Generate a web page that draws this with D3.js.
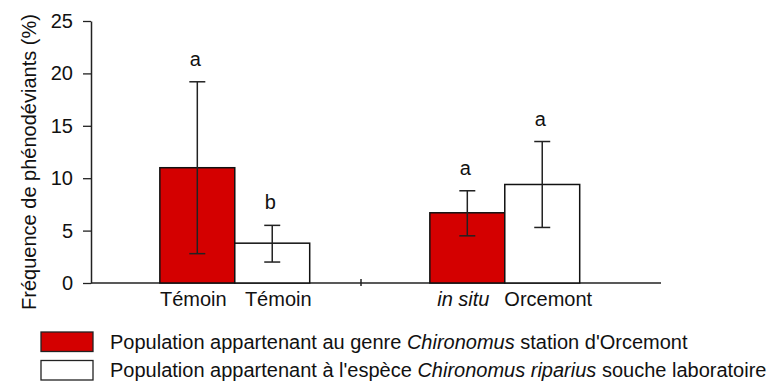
<!DOCTYPE html>
<html>
<head>
<meta charset="utf-8">
<script src="https://cdn.jsdelivr.net/npm/d3@7"></script>
<style>
  html, body { margin: 0; padding: 0; background: #fff; }
  svg { display: block; font-family: "Liberation Sans", Arial, sans-serif; }
</style>
</head>
<body>
<svg id="chart" width="780" height="382"></svg>
<script>
// Frequency of phenodeviants per population
const groups = ["Témoin", "Orcemont"];
const series = ["genre", "espece"];
const barLabels = [["Témoin", "Témoin"], ["in situ", "Orcemont"]];
const italicLabel = [[false, false], [true, false]];
const means = [[11.0, 3.8], [6.7, 9.4]];
const errLow = [[2.8, 2.0], [4.5, 5.3]];
const errHigh = [[19.2, 5.5], [8.8, 13.5]];
const letters = [["a", "b"], ["a", "a"]];
const yTicks = [0, 5, 10, 15, 20, 25];
const colors = { genre: "#d40000", espece: "#ffffff" };

const svg = d3.select("#chart");
const plotLeft = 91, plotTop = 21, plotBottom = 283, axisEnd = 661, catEnd = 631;
const fontSize = 20;
// paired labels are pushed slightly apart from their bar centres
const labelSpread = [-4, 6];

const y = d3.scaleLinear().domain([0, 25]).range([plotBottom, plotTop]);
const xg = d3.scaleBand().domain(groups).range([plotLeft, catEnd]);
const xs = d3.scaleBand().domain(series)
  .range([xg.bandwidth() * 0.255, xg.bandwidth() * 0.81]);

// y axis
const yAxis = svg.append("g")
  .attr("transform", `translate(${plotLeft},0)`)
  .call(d3.axisLeft(y).tickValues(yTicks).tickSize(8).tickPadding(10).tickSizeOuter(0));
yAxis.select(".domain").attr("stroke", "#222").attr("stroke-width", 1.5);
yAxis.selectAll(".tick line").attr("stroke", "#222").attr("stroke-width", 1.3);
yAxis.selectAll(".tick text")
  .attr("font-size", fontSize).attr("fill", "#111")
  .attr("font-family", "'Liberation Sans', Arial, sans-serif");

// x axis baseline and category separator
svg.append("line")
  .attr("x1", plotLeft).attr("x2", axisEnd).attr("y1", y(0)).attr("y2", y(0))
  .attr("stroke", "#222").attr("stroke-width", 1.5);
svg.append("line")
  .attr("x1", xg(groups[1])).attr("x2", xg(groups[1]))
  .attr("y1", y(0) - 4).attr("y2", y(0) + 3)
  .attr("stroke", "#222").attr("stroke-width", 1.5);

// y title
svg.append("text")
  .attr("transform", `translate(36,162) rotate(-90)`)
  .attr("text-anchor", "middle")
  .attr("font-size", fontSize).attr("fill", "#111")
  .text("Fréquence de phénodéviants (%)");

groups.forEach((g, gi) => {
  series.forEach((s, si) => {
    const x0 = xg(g) + xs(s);
    const w = xs.bandwidth();
    const cx = x0 + w / 2;
    svg.append("rect")
      .attr("x", x0).attr("y", y(means[gi][si]))
      .attr("width", w).attr("height", y(0) - y(means[gi][si]))
      .attr("fill", colors[s]).attr("stroke", "#111").attr("stroke-width", 1.5);
    // error bar
    const eb = svg.append("g").attr("stroke", "#222").attr("stroke-width", 1.5);
    eb.append("line").attr("x1", cx).attr("x2", cx)
      .attr("y1", y(errHigh[gi][si])).attr("y2", y(errLow[gi][si]));
    [errHigh[gi][si], errLow[gi][si]].forEach(v => {
      eb.append("line").attr("x1", cx - 8).attr("x2", cx + 8)
        .attr("y1", y(v)).attr("y2", y(v));
    });
    // significance letter
    svg.append("text")
      .attr("x", cx - 2).attr("y", y(errHigh[gi][si]) - 16)
      .attr("text-anchor", "middle").attr("font-size", fontSize).attr("fill", "#111")
      .text(letters[gi][si]);
    // category label
    svg.append("text")
      .attr("x", cx + labelSpread[si]).attr("y", 306)
      .attr("text-anchor", "middle").attr("font-size", fontSize).attr("fill", "#111")
      .attr("font-style", italicLabel[gi][si] ? "italic" : "normal")
      .text(barLabels[gi][si]);
  });
});

// legend
const legendItems = [
  { key: "genre", parts: [["Population appartenant au genre ", false], ["Chironomus", true], [" station d'Orcemont", false]] },
  { key: "espece", parts: [["Population appartenant à l'espèce ", false], ["Chironomus riparius", true], [" souche laboratoire", false]] }
];
legendItems.forEach((item, i) => {
  const ly = 332 + i * 28.5;
  svg.append("rect")
    .attr("x", 41).attr("y", ly).attr("width", 52).attr("height", 19.5)
    .attr("fill", colors[item.key]).attr("stroke", "#222").attr("stroke-width", 1.3);
  const t = svg.append("text").attr("x", 110).attr("y", ly + 16.5)
    .attr("font-size", fontSize).attr("fill", "#111");
  item.parts.forEach(([txt, it]) => {
    t.append("tspan").attr("font-style", it ? "italic" : "normal").text(txt);
  });
});
</script>
</body>
</html>
